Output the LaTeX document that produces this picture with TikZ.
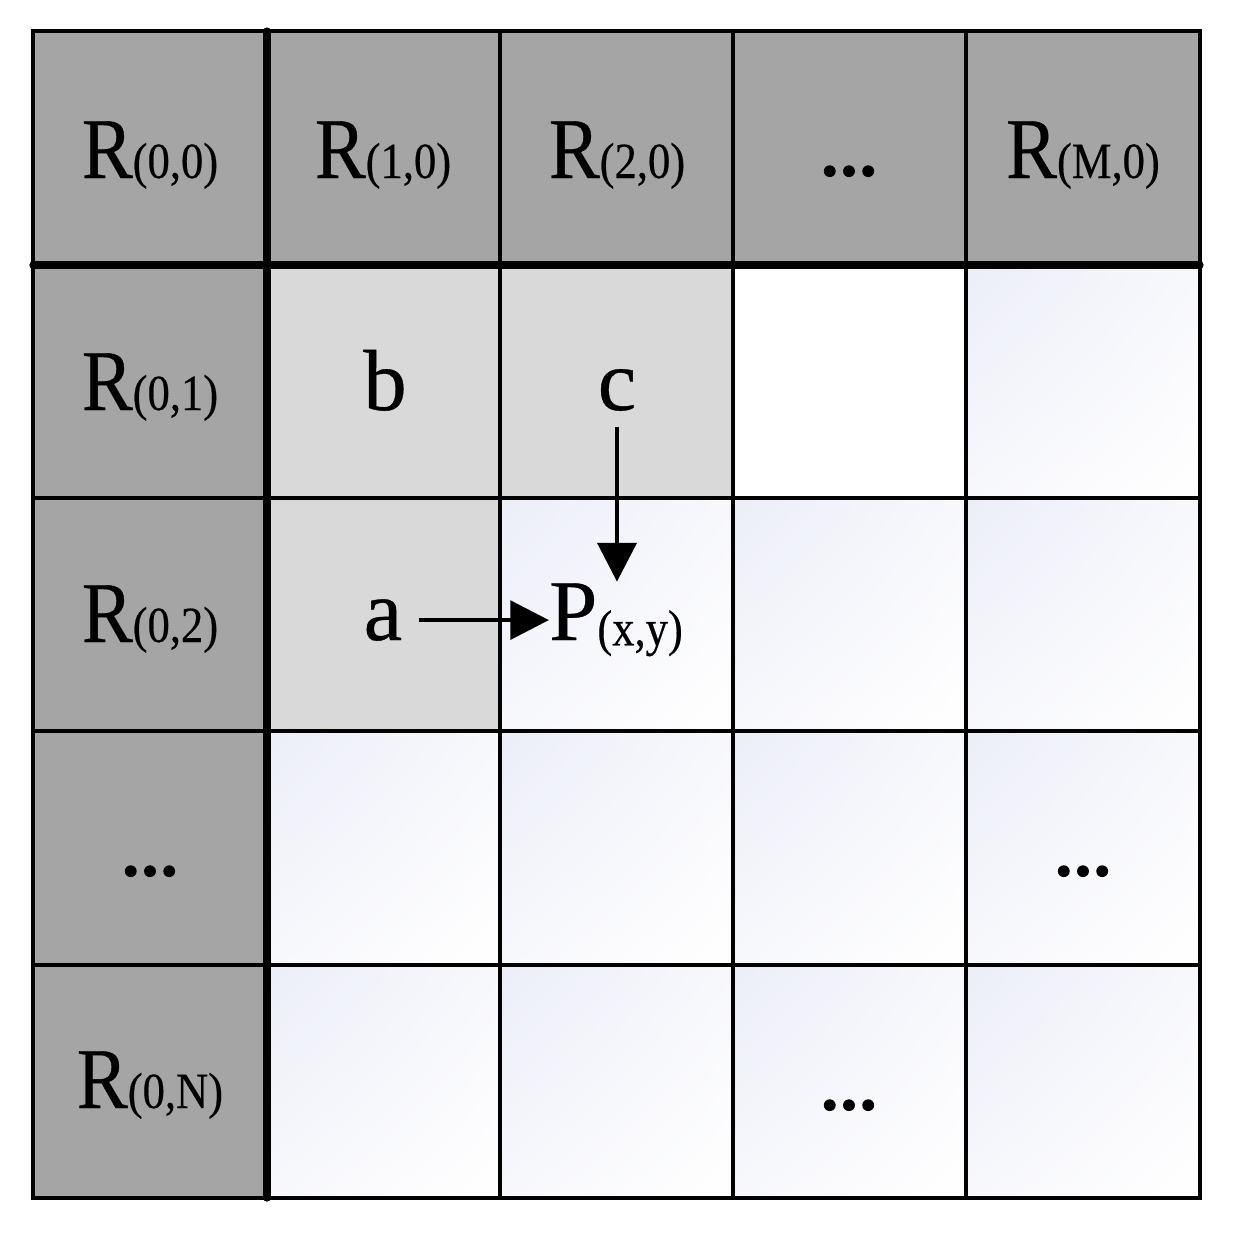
\documentclass[tikz,border=0pt]{standalone}
\usepackage{fontspec}
\setmainfont[FakeStretch=0.88,FakeBold=0.4]{Liberation Serif}
\newfontfamily\plainserif[FakeBold=0.4]{Liberation Serif}
\newfontfamily\dotfont[FakeBold=1.5]{Carlito Bold}
\usetikzlibrary{arrows.meta,shadings}
\definecolor{hdr}{HTML}{A5A5A5}
\definecolor{lgt}{HTML}{D9D9D9}
\definecolor{lav}{HTML}{ECEEF8}
\newcommand{\bigR}[1]{{\fontsize{65}{70}\selectfont R}{\fontsize{38}{40}\selectfont(#1)}}
\newcommand{\mydots}{{\dotfont\fontsize{54}{58}\selectfont ...}}
\tikzset{
  thin grid/.style={line width=2.6pt, line cap=rect},
  thick grid/.style={line width=5.4pt, line cap=round},
  lbl/.style={anchor=base, inner sep=0pt},
  letter/.style={inner sep=0pt, font=\plainserif\fontsize{65}{70}\selectfont},
  arr/.style={line width=3.3pt, -{Triangle[length=29pt,width=29pt]}},
  grad/.style={upper left=lav, upper right=lav!40!white, lower left=lav!40!white, lower right=white}
}
\begin{document}
\begin{tikzpicture}[x=0.75pt,y=-0.75pt]
\useasboundingbox (0,0) rectangle (1233,1233);
% fills
\fill[hdr] (33,31) rectangle (1200,265);
\fill[hdr] (33,265) rectangle (267,1198);
\fill[lgt] (267,265) rectangle (733,498);
\fill[lgt] (267,498) rectangle (500,731);
\fill[white] (733,265) rectangle (966,498);
\shade[grad] (966,265) rectangle (1200,498);
\shade[grad] (500,498) rectangle (733,731);
\shade[grad] (733,498) rectangle (966,731);
\shade[grad] (966,498) rectangle (1200,731);
\foreach \x/\xx in {267/500,500/733,733/966,966/1200}{
  \foreach \y/\yy in {731/965,965/1198}{
    \shade[grad] (\x,\y) rectangle (\xx,\yy);
  }
}
% thin grid
\foreach \x in {33,500,733,966,1200} \draw[thin grid] (\x,31) -- (\x,1198);
\foreach \y in {31,498,731,965,1198} \draw[thin grid] (33,\y) -- (1200,\y);
% thick grid
\draw[thick grid] (267,31) -- (267,1198);
\draw[thick grid] (33,265) -- (1200,265);
% header labels
\node[lbl] (r00) at (150,178) {\bigR{0,0}};
\node[lbl] (r10) at (383,178) {\bigR{1,0}};
\node[lbl] (r20) at (617,178) {\bigR{2,0}};
\node[lbl] (d30) at (849,176) {\mydots};
\node[lbl] (rm0) at (1083,178) {\bigR{M,0}};
\node[lbl] (r01) at (150,410) {\bigR{0,1}};
\node[lbl] (r02) at (150,642) {\bigR{0,2}};
\node[lbl] (d03) at (150,876) {\mydots};
\node[lbl] (r0n) at (150,1108) {\bigR{0,N}};
\node[lbl] (d43) at (1083,876) {\mydots};
\node[lbl] (d34) at (849,1110) {\mydots};
% letters
\node[letter, anchor=base] (b) at (385,410) {b};
\node[letter, anchor=base] (c) at (617,410) {c};
\node[letter, anchor=base] (a) at (383,640) {a};
\node[inner sep=0pt, anchor=base] (P) at (616,640) {{\plainserif\fontsize{65}{70}\selectfont P}{\fontsize{38}{40}\selectfont\raisebox{-4pt}{(x,y)}}};
% arrows
\draw[arr, shorten <=12pt] (a.east) -- (a.east -| P.west);
\draw[arr, shorten <=12pt, shorten >=1pt] (c.south) -- (c.south |- P.north);
\end{tikzpicture}
\end{document}
